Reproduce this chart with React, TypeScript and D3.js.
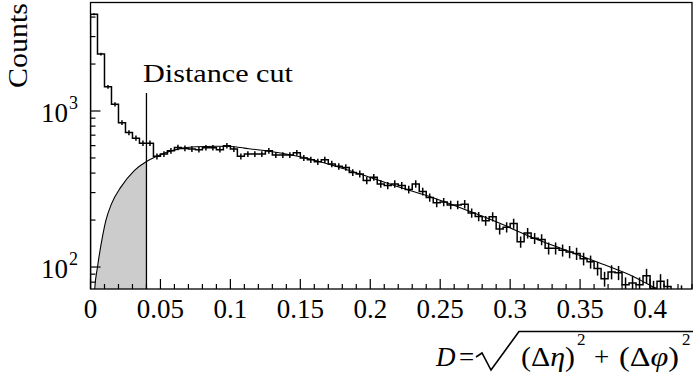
import React from 'react';
import * as d3 from 'd3';

// histogram counts, bins of 0.005 starting at D = 0
const binWidth = 0.005;
const counts = [
  4170, 2318, 1429, 1103, 842, 727, 670, 622, 622, 512,
  530, 556, 584, 576, 570, 565, 582, 582, 565, 599,
  570, 512, 530, 530, 530, 556, 522, 522, 522, 540,
  500, 487, 473, 487, 458, 442, 435, 404, 395, 358,
  376, 341, 333, 341, 333, 314, 341, 305, 279, 258,
  261, 250, 250, 253, 222, 211, 198, 210, 175, 180,
  190, 145, 165, 153, 150, 132, 132, 128, 125, 122,
  113, 108, 98, 84, 93, 92, 77, 79, 77, 88,
  73, 81, 75, 62, 68, 58,
];

// fit curve
const fitD = [
  0.0025, 0.003, 0.005, 0.0086, 0.011, 0.015, 0.0217, 0.0313, 0.04, 0.0458,
  0.053, 0.0625, 0.075, 0.09, 0.1, 0.11, 0.13, 0.154, 0.178, 0.202,
  0.221, 0.245, 0.269, 0.293, 0.317, 0.34, 0.364, 0.388, 0.404, 0.42,
];
const fitN = [
  60, 72, 100, 157, 199, 254, 325, 415, 475, 505,
  538, 570, 590, 595, 592, 578, 548, 500, 435, 370,
  325, 278, 231, 190, 153, 128, 106, 87, 73, 62,
];

const cutD = 0.04;
const cutLabel = 'Distance cut';

const xTicks = [0, 0.05, 0.1, 0.15, 0.2, 0.25, 0.3, 0.35, 0.4];
const xTickLabels = ['0', '0.05', '0.1', '0.15', '0.2', '0.25', '0.3', '0.35', '0.4'];
const yMajor = [100, 1000];
const yMajorExp = ['2', '3'];
const yMinor = [80, 90, 200, 300, 400, 500, 600, 700, 800, 900, 2000, 3000, 4000];

const W = 696;
const H = 372;
const frame = { left: 90.5, right: 692, top: 2.5, bottom: 289 };
const font = 'Liberation Serif, Times New Roman, Tinos, Times, serif';

export default function App() {
  const x = d3.scaleLinear().domain([0, 0.43]).range([frame.left, frame.right]);
  const y = d3.scaleLog().domain([72.3, 4960]).range([frame.bottom, frame.top]);
  const yc = (v: number) => Math.min(frame.bottom + 2, y(Math.max(v, 1)));

  // step histogram
  let hist = `M${x(0)},${frame.bottom}`;
  counts.forEach((c, i) => {
    hist += `V${yc(c)}H${x((i + 1) * binWidth)}`;
  });

  const pts: [number, number][] = fitD.map((d, i) => [x(d), y(fitN[i])]);
  const line = d3.line().curve(d3.curveMonotoneX);
  const cutPts = pts.filter((p) => p[0] <= x(cutD) + 0.01);
  const area = d3
    .area()
    .curve(d3.curveMonotoneX)
    .y0(frame.bottom)
    .y1((p) => p[1]);

  const minorX = d3.range(0, 44).map((i) => i * 0.01).filter((d) => d <= 0.43);

  return (
    <svg
      width={W}
      height={H}
      style={{ position: 'absolute', left: 0, top: 0, background: '#fff', fontFamily: font }}
    >
      <defs>
        <clipPath id="plot">
          <rect
            x={frame.left}
            y={frame.top}
            width={frame.right - frame.left}
            height={frame.bottom - frame.top}
          />
        </clipPath>
      </defs>
      <rect width={W} height={H} fill="#fff" />

      <g clipPath="url(#plot)">
        <path d={area(cutPts) || ''} fill="#cccccc" stroke="none" />
        <path d={line(pts) || ''} fill="none" stroke="#000" strokeWidth={1.1} />
        <path d={hist} fill="none" stroke="#000" strokeWidth={1.5} />
        {counts.map((c, i) => {
          const cx = x((i + 0.5) * binWidth);
          const e = Math.sqrt(c);
          return (
            <line
              key={i}
              x1={cx}
              x2={cx}
              y1={yc(c + e)}
              y2={yc(c - e)}
              stroke="#000"
              strokeWidth={1.5}
            />
          );
        })}
      </g>

      {/* distance cut */}
      <line x1={x(cutD)} x2={x(cutD)} y1={frame.bottom} y2={93} stroke="#000" strokeWidth={1.3} />
      <text x={143} y={82} fontSize={26} textLength={150} lengthAdjust="spacingAndGlyphs">
        {cutLabel}
      </text>

      {/* frame */}
      <rect
        x={frame.left}
        y={frame.top}
        width={frame.right - frame.left}
        height={frame.bottom - frame.top}
        fill="none"
        stroke="#000"
        strokeWidth={1.3}
      />

      {/* x axis ticks */}
      {minorX.map((d, i) => {
        const major = i % 5 === 0;
        return (
          <line
            key={i}
            x1={x(d)}
            x2={x(d)}
            y1={frame.bottom}
            y2={frame.bottom - (major ? 10 : 5)}
            stroke="#000"
            strokeWidth={1.2}
          />
        );
      })}
      {xTicks.map((d, i) => (
        <text key={i} x={x(d)} y={318} fontSize={27} textAnchor="middle">
          {xTickLabels[i]}
        </text>
      ))}

      {/* y axis ticks */}
      {yMinor.map((v) => (
        <line
          key={v}
          x1={frame.left}
          x2={frame.left + 5}
          y1={y(v)}
          y2={y(v)}
          stroke="#000"
          strokeWidth={1.2}
        />
      ))}
      {yMajor.map((v, i) => (
        <g key={v}>
          <line
            x1={frame.left}
            x2={frame.left + 10}
            y1={y(v)}
            y2={y(v)}
            stroke="#000"
            strokeWidth={1.2}
          />
          <text x={68} y={y(v) + 10.7} fontSize={27} textAnchor="end">
            10
          </text>
          <text x={69} y={y(v) - 2} fontSize={18}>
            {yMajorExp[i]}
          </text>
        </g>
      ))}

      {/* axis titles */}
      <text
        transform="translate(27,3) rotate(-90)"
        fontSize={27}
        textAnchor="end"
        textLength={85}
        lengthAdjust="spacingAndGlyphs"
      >
        Counts
      </text>

      <g fontSize={27}>
        <text x={436} y={366} fontStyle="italic">D</text>
        <text x={459} y={366}>=</text>
        <path
          d="M476,357 L482,353 L491,370 L519,331.5 L693,331.5"
          fill="none"
          stroke="#000"
          strokeWidth={1.6}
        />
        <text x={521} y={366} textLength={54} lengthAdjust="spacingAndGlyphs">
          (Δ<tspan fontStyle="italic">η</tspan>)
        </text>
        <text x={577} y={345} fontSize={17}>2</text>
        <text x={594} y={366}>+</text>
        <text x={619} y={366} textLength={60} lengthAdjust="spacingAndGlyphs">
          (Δ<tspan fontStyle="italic">φ</tspan>)
        </text>
        <text x={682} y={345} fontSize={17}>2</text>
      </g>
    </svg>
  );
}
